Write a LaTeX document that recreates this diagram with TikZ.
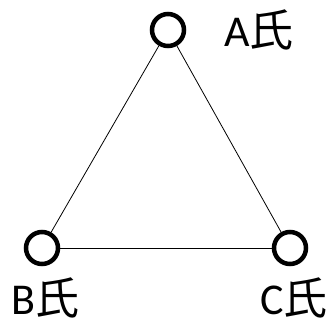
\documentclass[tikz,border=0pt]{standalone}
\usepackage{fontspec}
\setmainfont{Carlito}
\newfontfamily\cjk{Noto Sans CJK JP}
\begin{document}
\begin{tikzpicture}[x=1pt,y=-1pt,
  person/.style={circle,draw,line width=4.5pt,minimum size=32pt,inner sep=0pt},
  lbl/.style={font=\fontsize{44}{44}\selectfont,inner sep=0pt,anchor=base west},
  link/.style={line width=0.8pt}]
\useasboundingbox (0,0) rectangle (334,327);
\node[person] (a) at (168,30) {};
\node[person] (b) at (42,248) {};
\node[person] (c) at (290,248) {};
\draw[link] (a) -- (b);
\draw[link] (b) -- (c);
\draw[link] (c) -- (a);
\node[lbl] (la) at (224,46) {A{\cjk 氏}};
\node[lbl] (lb) at (11,314) {B{\cjk 氏}};
\node[lbl] (lc) at (260,314) {C{\cjk 氏}};
\end{tikzpicture}
\end{document}
